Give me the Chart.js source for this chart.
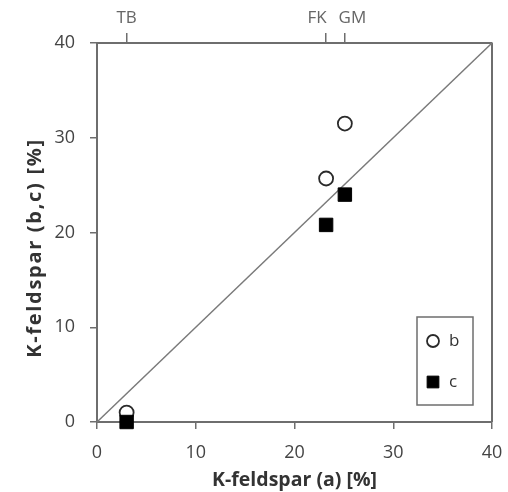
<!DOCTYPE html>
<html>
<head>
<meta charset="utf-8">
<script src="https://cdn.jsdelivr.net/npm/chart.js@4/dist/chart.umd.min.js"></script>
<style>
  html, body { margin: 0; padding: 0; background: #fff; }
  #wrap { width: 508px; height: 492px; position: relative; }
</style>
</head>
<body>
<div id="wrap"><canvas id="c" width="508" height="492"></canvas></div>
<script>
// ---- data ----
const siteLabels = ['TB', 'FK', 'GM'];
const siteA = [3.0, 23.2, 25.1];          // K-feldspar (a) [%]
const seriesB = [1.0, 25.7, 31.5];        // K-feldspar (b) [%]
const seriesC = [0.0, 20.8, 24.0];        // K-feldspar (c) [%]
const axisTicks = [0, 10, 20, 30, 40];
const lineEnds = [0, 40];                 // 1:1 line
const xTitle = 'K-feldspar (a) [%]';
const yTitle = 'K-feldspar (b,c) [%]';
const legendLabels = ['b', 'c'];
const siteLabelShift = [0, -9, 7.5];      // label nudges (px) to avoid overlap

const FONT = '"Open Sans", Lato, "DejaVu Sans", sans-serif';
const AXIS = '#6e6e6e';
const TICKTXT = '#444';

const bData = siteA.map((x, i) => ({ x: x, y: seriesB[i] }));
const cData = siteA.map((x, i) => ({ x: x, y: seriesC[i] }));
const lineData = lineEnds.map(v => ({ x: v, y: v }));

const framePlugin = {
  id: 'frameAndLegend',
  beforeDatasetsDraw(chart) {
    const a = chart.chartArea, ctx = chart.ctx;
    ctx.save();
    ctx.strokeStyle = AXIS;
    ctx.lineWidth = 2;
    ctx.beginPath();
    ctx.moveTo(a.right, a.top);
    ctx.lineTo(a.right, a.bottom);
    ctx.stroke();
    // top site labels
    const s = chart.scales.x2;
    ctx.fillStyle = '#666';
    ctx.font = '17px ' + FONT;
    ctx.textAlign = 'center';
    ctx.textBaseline = 'middle';
    siteA.forEach((v, i) => {
      ctx.fillText(siteLabels[i], s.getPixelForValue(v) + siteLabelShift[i], 18);
    });
    ctx.restore();
  },
  afterDatasetsDraw(chart) {
    const ctx = chart.ctx;
    const bx = 417, by = 317, bw = 56, bh = 88;
    ctx.save();
    ctx.fillStyle = '#fff';
    ctx.fillRect(bx, by, bw, bh);
    ctx.strokeStyle = AXIS;
    ctx.lineWidth = 1.5;
    ctx.strokeRect(bx, by, bw, bh);
    const ys = [341, 382];
    [1, 2].forEach((di, k) => {
      const ds = chart.data.datasets[di];
      const opts = {
        pointStyle: ds.pointStyle,
        radius: di === 1 ? 6 : 8.3,
        borderWidth: ds.borderWidth,
        rotation: 0
      };
      ctx.fillStyle = ds.backgroundColor;
      ctx.strokeStyle = ds.borderColor;
      ctx.lineWidth = ds.borderWidth;
      Chart.helpers.drawPoint(ctx, opts, 433, ys[k]);
      ctx.fillStyle = '#333';
      ctx.font = '17px ' + FONT;
      ctx.textBaseline = 'middle';
      ctx.textAlign = 'left';
      ctx.fillText(legendLabels[k], 449, ys[k]);
    });
    ctx.restore();
  },
  afterDraw(chart) {
    const ctx = chart.ctx;
    ctx.save();
    ctx.translate(35, 248);
    ctx.rotate(-Math.PI / 2);
    ctx.fillStyle = '#333';
    ctx.font = 'bold 20px ' + FONT;
    try { ctx.letterSpacing = '1.7px'; } catch (e) {}
    ctx.textAlign = 'center';
    ctx.textBaseline = 'middle';
    ctx.fillText(yTitle, 0, 0);
    ctx.restore();
  }
};

function fixH(h) {
  return s => { s.height = h; s.paddingLeft = 0; s.paddingRight = 0; };
}

new Chart(document.getElementById('c'), {
  type: 'scatter',
  data: {
    datasets: [
      {
        type: 'line', label: '1:1', data: lineData,
        borderColor: '#7a7a7a', borderWidth: 1.5, pointRadius: 0,
        fill: false, order: 3, clip: false
      },
      {
        label: legendLabels[0], data: bData,
        pointStyle: 'circle', pointRadius: 7, pointHoverRadius: 7,
        backgroundColor: '#fff', borderColor: '#2a2a2a', borderWidth: 1.8,
        order: 2, clip: false
      },
      {
        label: legendLabels[1], data: cData,
        pointStyle: 'rect', pointRadius: 9.5, pointHoverRadius: 9.5,
        backgroundColor: '#000', borderColor: '#000', borderWidth: 1,
        order: 1, clip: false
      }
    ]
  },
  options: {
    responsive: false,
    animation: false,
    events: [],
    layout: { padding: { left: 0, right: 16, top: 0, bottom: 0 } },
    plugins: { legend: { display: false }, tooltip: { enabled: false } },
    scales: {
      x: {
        type: 'linear', position: 'bottom', min: 0, max: 40,
        afterBuildTicks: s => { s.ticks = axisTicks.map(v => ({ value: v })); },
        afterFit: fixH(70),
        ticks: { color: TICKTXT, font: { family: FONT, size: 18 }, padding: 13, maxRotation: 0 },
        grid: { drawOnChartArea: false, drawTicks: true, tickLength: 7, color: AXIS, lineWidth: 1.5 },
        border: { display: true, color: AXIS, width: 2 },
        title: { display: true, text: xTitle, color: '#333', font: { family: FONT, size: 19.5, weight: 'bold' }, padding: { top: 0, bottom: 0 } }
      },
      x2: {
        type: 'linear', position: 'top', min: 0, max: 40,
        afterBuildTicks: s => { s.ticks = siteA.map(v => ({ value: v })); },
        afterFit: fixH(43),
        ticks: { display: false },
        grid: { drawOnChartArea: false, drawTicks: true, tickLength: 10, color: AXIS, lineWidth: 1.5 },
        border: { display: true, color: AXIS, width: 2 }
      },
      y: {
        type: 'linear', position: 'left', min: 0, max: 40,
        afterBuildTicks: s => { s.ticks = axisTicks.map(v => ({ value: v })); },
        afterFit: s => { s.width = 97; s.paddingTop = 0; s.paddingBottom = 0; },
        ticks: { color: TICKTXT, font: { family: FONT, size: 18 }, padding: 15 },
        grid: { drawOnChartArea: false, drawTicks: true, tickLength: 7, color: AXIS, lineWidth: 1.5 },
        border: { display: true, color: AXIS, width: 2 }
      }
    }
  },
  plugins: [framePlugin]
});
</script>
</body>
</html>
